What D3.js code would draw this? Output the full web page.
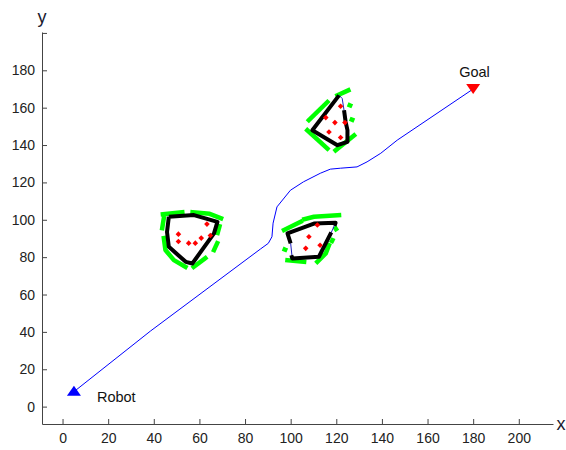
<!DOCTYPE html>
<html>
<head>
<meta charset="utf-8">
<script src="https://cdn.jsdelivr.net/npm/d3@7"></script>
<style>
  body { margin: 0; background: #fff; }
  #grafico { width: 566px; height: 450px; }
  text { font-family: "Liberation Sans", Arial, sans-serif; }
</style>
</head>
<body>
<div id="grafico"></div>
<script>
// ticks
const xTicks = [0, 20, 40, 60, 80, 100, 120, 140, 160, 180, 200];
const yTicks = [0, 20, 40, 60, 80, 100, 120, 140, 160, 180, 200];
const yTickLabels = ["0", "20", "40", "60", "80", "100", "120", "140", "160", "180", ""];

// robot start, goal and the travelled path
const robot = [5, 8];
const goal = [180, 170];
const pathPoints = [
  [5, 8], [38.5, 40.4], [86.7, 84.3], [90.2, 87.4], [91.8, 90.9], [92.3, 98.2],
  [94.0, 106.9], [99.9, 115.8], [105.6, 120.3], [113.0, 124.9], [117.4, 127.1],
  [121.8, 127.6], [129.1, 128.3], [133.5, 131.0], [139.5, 135.6], [146.7, 142.6],
  [180, 170]
];

// obstacle 1 (left)
const obs1Outline = [[46.6, 101.6], [57.6, 102.5], [67.9, 98.9], [66.4, 92.7], [56.9, 76.6], [54.0, 77.5], [46.6, 85.5], [45.8, 93.5], [46.6, 101.6]];
const obs1Sensed = [
  [[44.0, 103.0], [52.5, 104.0]],
  [[57.0, 104.0], [64.5, 103.2], [69.5, 100.8]],
  [[68.8, 96.5], [68.0, 93.0]],
  [[67.8, 87.5], [66.4, 83.8]],
  [[62.6, 79.5], [57.5, 74.8]],
  [[44.4, 100.9], [43.7, 95.5]],
  [[44.4, 90.2], [45.1, 83.8], [48.8, 78.4], [53.9, 74.8]]
];
const obs1Inside = [[63.3, 97.7], [50.8, 92.3], [50.8, 88.4], [55.3, 87.5], [58.2, 87.5], [60.8, 90.2], [64.8, 91.6]];

// obstacle 2 (middle)
const obs2Outline = [[98.6, 92.7], [110.2, 98.0], [119.7, 98.4], [118.3, 94.5], [112.4, 80.2], [100.7, 79.3], [100.0, 87.4], [98.6, 92.7]];
const obs2Black = [
  [[100.0, 87.4], [98.6, 92.7], [110.2, 98.0], [119.7, 98.4], [119.2, 96.8]],
  [[117.8, 93.3], [112.4, 80.2], [100.7, 79.3], [100.3, 81.0]]
];
const obs2Sensed = [
  [[97.1, 94.5], [104.4, 98.9]],
  [[106.0, 100.3], [110.2, 101.6], [121.2, 102.5]],
  [[119.7, 95.4], [119.9, 95.0]],
  [[118.3, 89.1], [118.1, 88.6]],
  [[116.8, 86.4], [115.4, 82.0], [111.7, 77.5]],
  [[98.6, 78.4], [105.9, 77.5]],
  [[97.4, 84.1], [97.6, 84.0]]
];
const obs2Inside = [[111.7, 97.2], [108.0, 90.9], [106.6, 84.7], [112.9, 86.4]];

// obstacle 3 (top)
const obs3Outline = [[123.4, 158.6], [124.1, 152.4], [124.9, 148.0], [124.9, 141.7], [120.5, 139.9], [109.5, 147.9], [121.2, 166.6], [122.6, 164.9], [123.4, 158.6]];
const obs3Black = [
  [[123.4, 158.6], [124.1, 152.4], [124.9, 148.0], [124.9, 141.7], [120.5, 139.9], [109.5, 147.9], [121.2, 166.6]]
];
const obs3Sensed = [
  [[108.0, 153.3], [116.1, 163.0]],
  [[120.5, 166.6], [125.3, 169.3]],
  [[107.3, 147.9], [116.1, 138.1]],
  [[119.7, 137.2], [127.8, 145.2]],
  [[125.9, 161.3], [126.1, 161.2]],
  [[126.8, 153.6], [127.0, 153.5]]
];
const obs3Inside = [[121.9, 160.8], [115.4, 154.7], [119.4, 152.0], [123.8, 152.0], [116.8, 147.0], [121.9, 144.0]];

document.addEventListener("DOMContentLoaded", () => {
  const width = 566;
  const height = 450;

  const svg = d3.select("#grafico").append("svg")
    .attr("width", width)
    .attr("height", height)
    .style("display", "block");

  const x = d3.scaleLinear().domain([-9, 215]).range([42, 553]);
  const y = d3.scaleLinear().domain([-9.3, 200.5]).range([424, 32]);

  const line = d3.line().x(d => x(d[0])).y(d => y(d[1]));

  // axes
  const xAxis = svg.append("g")
    .attr("transform", `translate(0,${y.range()[0]})`)
    .call(d3.axisBottom(x).tickValues(xTicks).tickSizeInner(-5).tickSizeOuter(0).tickPadding(9));

  const yAxis = svg.append("g")
    .attr("transform", `translate(${x.range()[0]},0)`)
    .call(d3.axisLeft(y).tickValues(yTicks).tickFormat((d, i) => yTickLabels[i])
      .tickSizeInner(-5).tickSizeOuter(0).tickPadding(7));

  [xAxis, yAxis].forEach(g => {
    g.select(".domain").attr("stroke", "#444");
    g.selectAll(".tick line").attr("stroke", "#444");
    g.selectAll(".tick text").attr("fill", "#222").style("font-size", "14px");
  });

  svg.append("text").attr("x", 42).attr("y", 23).attr("text-anchor", "middle")
    .style("font-size", "18px").attr("fill", "#1a1a2e").text("y");
  svg.append("text").attr("x", 561).attr("y", 430).attr("text-anchor", "middle")
    .style("font-size", "18px").attr("fill", "#1a1a2e").text("x");

  // obstacles
  function desenharObstaculo(outline, blackChains, sensed, inside) {
    const g = svg.append("g");
    g.selectAll(".sensed").data(sensed).join("path")
      .attr("d", line)
      .attr("fill", "none")
      .attr("stroke", "#00ff00")
      .attr("stroke-width", 4.5)
      .attr("stroke-linecap", "square")
      .attr("stroke-linejoin", "round");
    g.append("path")
      .attr("d", line(outline))
      .attr("fill", "none")
      .attr("stroke", "#2020c0")
      .attr("stroke-width", 1);
    g.selectAll(".black").data(blackChains).join("path")
      .attr("d", line)
      .attr("fill", "none")
      .attr("stroke", "#000")
      .attr("stroke-width", 4)
      .attr("stroke-linejoin", "round");
    g.selectAll(".inside").data(inside).join("path")
      .attr("transform", d => `translate(${x(d[0])},${y(d[1])})`)
      .attr("d", d3.symbol(d3.symbolDiamond2, 20))
      .attr("fill", "#ff0000");
  }

  desenharObstaculo(obs1Outline, [obs1Outline], obs1Sensed, obs1Inside);
  desenharObstaculo(obs2Outline, obs2Black, obs2Sensed, obs2Inside);
  desenharObstaculo(obs3Outline, obs3Black, obs3Sensed, obs3Inside);

  // path
  svg.append("path")
    .attr("d", line(pathPoints))
    .attr("fill", "none")
    .attr("stroke", "#0000ff")
    .attr("stroke-width", 1);

  // robot and goal markers
  svg.append("path")
    .attr("d", `M${x(robot[0])},${y(robot[1]) - 6} l7,10 l-14,0 z`)
    .attr("fill", "#0000ff");
  svg.append("path")
    .attr("d", `M${x(goal[0]) - 7},${y(goal[1]) - 5} l14,0 l-7,10 z`)
    .attr("fill", "#ff0000");

  svg.append("text").attr("x", x(robot[0]) + 23).attr("y", y(robot[1]) + 10)
    .style("font-size", "14.5px").attr("fill", "#111").text("Robot");
  svg.append("text").attr("x", x(goal[0]) - 14).attr("y", y(goal[1]) - 12)
    .style("font-size", "14.5px").attr("fill", "#111").text("Goal");
});
</script>
</body>
</html>
